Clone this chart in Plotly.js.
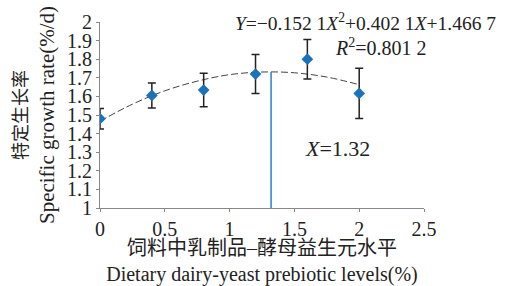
<!DOCTYPE html>
<html>
<head>
<meta charset="utf-8">
<script src="https://cdn.plot.ly/plotly-3.0.1.min.js"></script>
<style>html,body{margin:0;padding:0;background:#fff;}#chart{width:509px;height:286px;}</style>
</head>
<body>
<div id="chart"></div>
<script>
const levels = [0, 0.4, 0.8, 1.2, 1.6, 2.0];
const sgr = [1.48, 1.605, 1.634, 1.72, 1.80, 1.616];
const sgrErr = [0.055, 0.067, 0.09, 0.105, 0.106, 0.135];

// Fitted trend curve
const fitX = [0, 0.25, 0.5, 0.75, 1.0, 1.25, 1.5, 1.75, 2.0];
const fitY = [1.467, 1.558, 1.630, 1.682, 1.717, 1.731, 1.727, 1.704, 1.663];

// Optimum marker line
const optX = [1.32, 1.32];
const optY = [1.0, 1.731];

const xTicks = [0, 0.5, 1, 1.5, 2, 2.5];
const xTickText = ['0', '0.5', '1', '1.5', '2', '2.5'];
const yTicks = [1, 1.1, 1.2, 1.3, 1.4, 1.5, 1.6, 1.7, 1.8, 1.9, 2];
const yTickText = ['1', '1.1', '1.2', '1.3', '1.4', '1.5', '1.6', '1.7', '1.8', '1.9', '2'];

const serif = 'Liberation Serif, Times New Roman, Noto Sans CJK SC, serif';

const traces = [
  {
    x: fitX, y: fitY, type: 'scatter', mode: 'lines',
    line: {color: '#444', width: 1, dash: '7px,3px', shape: 'spline'},
    hoverinfo: 'skip'
  },
  {
    x: optX, y: optY, type: 'scatter', mode: 'lines',
    line: {color: '#2b7fc0', width: 1.5},
    hoverinfo: 'skip'
  },
  {
    x: levels, y: sgr, type: 'scatter', mode: 'markers',
    marker: {symbol: 'diamond', size: 9, color: '#1a72b8'},
    error_y: {type: 'data', array: sgrErr, visible: true, color: '#222', thickness: 1.5, width: 4}
  }
];

const layout = {
  width: 509, height: 286,
  margin: {l: 100, r: 85, t: 22, b: 78},
  paper_bgcolor: '#ffffff', plot_bgcolor: '#ffffff',
  showlegend: false,
  font: {family: serif, size: 18, color: '#222'},
  xaxis: {
    range: [0, 2.5], tickvals: xTicks, ticktext: xTickText,
    showgrid: false, zeroline: false, showline: true, linecolor: '#888', linewidth: 1,
    ticks: 'outside', ticklen: 3, tickcolor: '#888',
    tickfont: {family: serif, size: 20, color: '#222'},
    title: {text: '饲料中乳制品–酵母益生元水平<br>Dietary dairy-yeast prebiotic levels(%)',
            font: {family: serif, size: 20, color: '#222'}, standoff: 2}
  },
  yaxis: {
    range: [1, 2], tickvals: yTicks, ticktext: yTickText,
    showgrid: false, zeroline: false, showline: true, linecolor: '#888', linewidth: 1,
    ticks: 'outside', ticklen: 3, tickcolor: '#888',
    tickfont: {family: serif, size: 20, color: '#222'},
    title: {text: '<span style="font-size:18px">特定生长率</span><br>Specific growth rate(%/d)',
            font: {family: serif, size: 21, color: '#222'}, standoff: 6}
  },
  annotations: [
    {x: 2.05, y: 2.0, xref: 'x', yref: 'y', xanchor: 'center', yanchor: 'middle', showarrow: false,
     text: '<i>Y</i>=−0.152 1<i>X</i><sup>2</sup>+0.402 1<i>X</i>+1.466 7',
     font: {family: serif, size: 19.5, color: '#222'}},
    {x: 2.17, y: 1.865, xref: 'x', yref: 'y', xanchor: 'center', yanchor: 'middle', showarrow: false,
     text: '<i>R</i><sup>2</sup>=0.801 2',
     font: {family: serif, size: 20, color: '#222'}},
    {x: 1.83, y: 1.32, xref: 'x', yref: 'y', xanchor: 'center', yanchor: 'middle', showarrow: false,
     text: '<i>X</i>=1.32',
     font: {family: serif, size: 22, color: '#222'}}
  ]
};

Plotly.newPlot('chart', traces, layout, {displayModeBar: false, staticPlot: true});
</script>
</body>
</html>
